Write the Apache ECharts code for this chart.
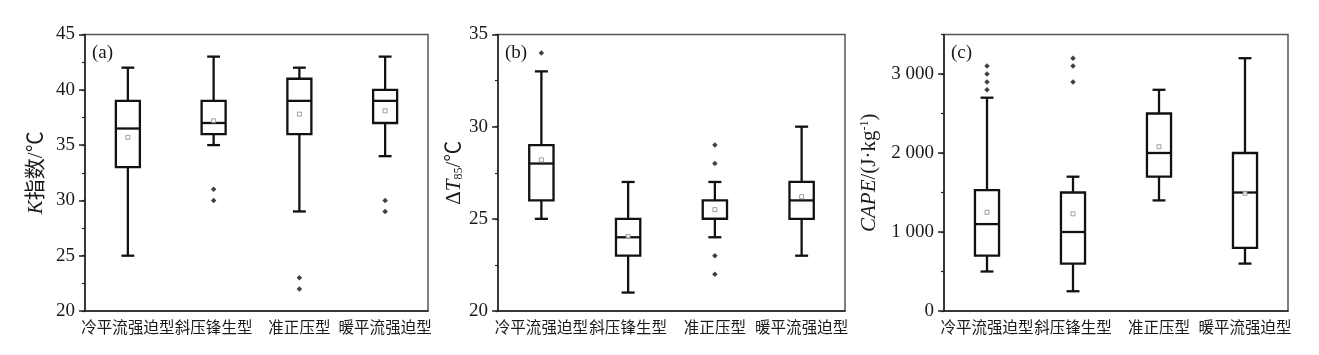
<!DOCTYPE html>
<html>
<head>
<meta charset="utf-8">
<script src="https://cdn.jsdelivr.net/npm/echarts@6/dist/echarts.min.js"></script>
<style>
html,body{margin:0;padding:0;background:#fff;}
#main{width:1319px;height:355px;}
</style>
</head>
<body>
<div id="main"></div>
<script>
// ---- data ----
const categories = ['冷平流强迫型', '斜压锋生型', '准正压型', '暖平流强迫型'];

// [min, Q1, median, Q3, max]
const kStats = [[25, 33, 36.5, 39, 42], [35, 36, 37, 39, 43], [29, 36, 39, 41, 42], [34, 37, 39, 40, 43]];
const kMeans = [35.7, 37.2, 37.8, 38.1];
const kOutliers = [[], [31, 30], [23, 22], [30, 29]];

const tStats = [[25, 26, 28, 29, 33], [21, 23, 24, 25, 27], [24, 25, 25, 26, 27], [23, 25, 26, 27, 30]];
const tMeans = [28.2, 24.05, 25.5, 26.2];
const tOutliers = [[34], [], [29, 28, 23, 22], []];

const cStats = [[500, 700, 1100, 1530, 2700], [250, 600, 1000, 1500, 1700], [1400, 1700, 2000, 2500, 2800], [600, 800, 1500, 2000, 3200]];
const cMeans = [1250, 1230, 2080, 1490];
const cOutliers = [[3100, 3000, 2900, 2800], [3200, 3100, 2900], [], []];

const kTicks = [20, 25, 30, 35, 40, 45];
const tTicks = [20, 25, 30, 35];
const cTicks = [0, 1000, 2000, 3000];

// ---- layout ----
const grids = [
  {left: 85, width: 343, top: 34.5, height: 276.5},
  {left: 498, width: 347, top: 34.5, height: 276.5},
  {left: 944, width: 344, top: 34.5, height: 276.5}
];
const panels = [
  {stats: kStats, means: kMeans, outs: kOutliers, min: 20, max: 45, major: 5, ticks: kTicks,
   name: '{i|K}指数/℃', nameGap: 38, tag: '(a)', fmt: v => String(v)},
  {stats: tStats, means: tMeans, outs: tOutliers, min: 20, max: 35, major: 5, ticks: tTicks,
   name: 'Δ{i|T}{sub|85}/℃', nameGap: 33, tag: '(b)', fmt: v => String(v)},
  {stats: cStats, means: cMeans, outs: cOutliers, min: 0, max: 3500, major: 1000, ticks: cTicks,
   name: '{i|CAPE}/(J·kg{sup|-1})', nameGap: 64, tag: '(c)',
   fmt: v => (v >= 3500 ? '' : (v >= 1000 ? Math.floor(v / 1000) + ' ' + String(v % 1000).padStart(3, '0') : String(v)))}
];

const TXT = '#1a1a1a';
const SERIF = '"Liberation Serif", "Times New Roman", serif';
const CJK = '"Liberation Serif", "Noto Sans CJK SC", serif';

function renderBox(params, api) {
  const i = api.value(0);
  const v = [api.value(1), api.value(2), api.value(3), api.value(4), api.value(5)];
  const band = api.size([1, 0])[0];
  const bw = band * 0.28, cw = band * 0.15;
  const p = v.map(val => api.coord([i, val]));
  const x = p[0][0];
  const st = {stroke: '#111', lineWidth: 2.3, fill: null};
  return {
    type: 'group',
    children: [
      {type: 'line', shape: {x1: x, y1: p[3][1], x2: x, y2: p[4][1]}, style: st},
      {type: 'line', shape: {x1: x, y1: p[1][1], x2: x, y2: p[0][1]}, style: st},
      {type: 'line', shape: {x1: x - cw / 2, y1: p[4][1], x2: x + cw / 2, y2: p[4][1]}, style: st},
      {type: 'line', shape: {x1: x - cw / 2, y1: p[0][1], x2: x + cw / 2, y2: p[0][1]}, style: st},
      {type: 'rect', shape: {x: x - bw / 2, y: p[3][1], width: bw, height: p[1][1] - p[3][1]}, style: {stroke: '#111', lineWidth: 2.3, fill: '#fff'}},
      {type: 'line', shape: {x1: x - bw / 2, y1: p[2][1], x2: x + bw / 2, y2: p[2][1]}, style: st}
    ]
  };
}

const option = {
  animation: false,
  backgroundColor: '#fff',
  grid: grids.map(g => Object.assign({show: true, borderColor: '#555', borderWidth: 1.5, backgroundColor: 'transparent'}, g)),
  title: panels.map((p, i) => ({
    text: p.tag, left: grids[i].left + 7, top: 44, padding: 0,
    textStyle: {fontFamily: SERIF, fontSize: 19, fontWeight: 'normal', color: TXT}
  })),
  xAxis: panels.map((p, i) => ({
    type: 'category', gridIndex: i, data: categories, boundaryGap: true,
    axisLine: {lineStyle: {color: '#222', width: 1.5}},
    axisTick: {alignWithLabel: true, length: 5, lineStyle: {color: '#222', width: 1.5}},
    axisLabel: {fontFamily: CJK, fontSize: 15.5, color: TXT, margin: 10, interval: 0}
  })),
  yAxis: [],
  series: []
};

panels.forEach((p, i) => {
  option.yAxis.push({
    type: 'value', gridIndex: i, position: 'left', min: p.min, max: p.max, interval: p.major,
    name: p.name, nameLocation: 'middle', nameGap: p.nameGap,
    nameTextStyle: {
      fontFamily: CJK, fontSize: 21, color: TXT,
      rich: {
        i: {fontStyle: 'italic', fontFamily: SERIF, fontSize: 21, color: TXT},
        sub: {fontSize: 12, fontFamily: SERIF, verticalAlign: 'bottom', padding: [8, 0, 0, 0], color: TXT},
        sup: {fontSize: 12, fontFamily: SERIF, verticalAlign: 'top', padding: [0, 0, 8, 0], color: TXT}
      }
    },
    axisLine: {show: true, lineStyle: {color: '#222', width: 1.5}},
    axisTick: {show: true, length: 6, customValues: p.ticks, lineStyle: {color: '#222', width: 1.5}},
    axisLabel: {fontFamily: SERIF, fontSize: 19, color: TXT, margin: 10, customValues: p.ticks, formatter: p.fmt, showMaxLabel: true},
    splitLine: {show: false}
  });
  option.yAxis.push({
    type: 'value', gridIndex: i, position: 'left', offset: 0, min: p.min, max: p.max, interval: p.major / 2,
    axisLine: {show: false},
    axisTick: {show: true, length: 3, lineStyle: {color: '#222', width: 1.2}},
    axisLabel: {show: false},
    splitLine: {show: false}
  });
  option.series.push({
    type: 'custom', xAxisIndex: i, yAxisIndex: 2 * i,
    renderItem: renderBox,
    encode: {x: 0, y: [1, 2, 3, 4, 5]},
    data: p.stats.map((s, k) => [k].concat(s)),
    z: 2
  });
  option.series.push({
    type: 'scatter', xAxisIndex: i, yAxisIndex: 2 * i,
    symbol: 'rect', symbolSize: 4,
    itemStyle: {color: '#fff', borderColor: '#888', borderWidth: 1},
    data: p.means.map((m, k) => [k, m]),
    z: 5
  });
  const outs = [];
  p.outs.forEach((arr, k) => arr.forEach(v => outs.push([k, v])));
  option.series.push({
    type: 'scatter', xAxisIndex: i, yAxisIndex: 2 * i,
    symbol: 'diamond', symbolSize: 5.5,
    itemStyle: {color: '#111'},
    data: outs,
    z: 5
  });
});

const chart = echarts.init(document.getElementById('main'), null, {renderer: 'canvas'});
chart.setOption(option);
</script>
</body>
</html>
